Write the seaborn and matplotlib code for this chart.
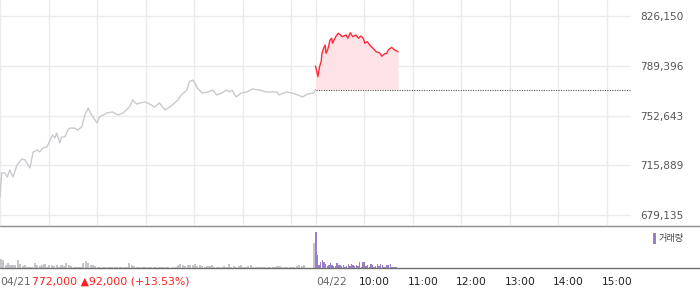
import matplotlib
matplotlib.use("Agg")
import matplotlib.pyplot as plt
import matplotlib.transforms as mtransforms
from matplotlib.lines import Line2D
from matplotlib.patches import Rectangle
from matplotlib.ticker import FuncFormatter
import numpy as np
import pandas as pd
import seaborn as sns

# ---------------- data ----------------
# day 1 (04/21) intraday price, minutes after 09:00
day1_min = [0, 2, 6, 9, 12, 16, 21, 27, 31, 37, 41, 46, 49, 53, 58, 62, 65, 68, 70, 74,
            76, 80, 84, 86, 92, 96, 101, 105, 109, 111, 115, 120, 123, 132, 139, 146, 152, 160, 164, 169,
            173, 179, 185, 191, 197, 204, 210, 213, 220, 224, 231, 234, 238, 241, 244, 250, 257, 263, 268, 274,
            280, 284, 287, 292, 298, 305, 312, 321, 329, 342, 345, 354, 361, 368, 374, 380, 388, 390]
day1_price = [692500, 710300, 710300, 707300, 712500, 707300, 716200, 720600, 719900, 714000,
              725800, 727300, 725800, 728800, 729500, 734700, 738400, 736200, 739900, 732500,
              736900, 736900, 742100, 743500, 743500, 742100, 744300, 753200, 758300, 755400,
              751700, 747200, 751700, 754600, 755400, 753200, 754600, 759100, 764300, 761300,
              762000, 762800, 761300, 759100, 762000, 756900, 759100, 760600, 764300, 768000,
              771600, 777600, 779000, 776800, 773100, 769400, 770200, 771600, 768000, 769400,
              771600, 770200, 771600, 766500, 769400, 770200, 772400, 771600, 770200, 770200,
              768000, 770200, 769400, 768000, 766500, 768700, 769400, 772000]

# day 2 (04/22) intraday price, minutes after 09:00
day2_min = [0, 3, 5, 7, 8, 10, 12, 13, 15, 18, 20, 21, 23, 25, 28, 31, 33, 38, 40, 43,
            46, 50, 53, 56, 59, 61, 64, 67, 71, 75, 79, 82, 85, 88, 90, 94, 98, 102]
day2_price = [789400, 781500, 788900, 792600, 798800, 802500, 804900, 798800, 801200, 808600,
              809900, 806200, 808600, 811100, 813600, 812300, 811100, 812300, 809900, 814000,
              811100, 812300, 809900, 811600, 809900, 806200, 807400, 804900, 802500, 800000,
              799200, 796600, 798300, 798800, 801200, 803200, 801200, 800000]

base_price = 772000  # previous close reference (dotted line)

# volume (thousand shares) - day 1 in 3-minute buckets, day 2 in 2-minute buckets
day1_vol = [9.3, 7.7, 2.7, 5.3, 2.7, 3.3, 2.7, 8, 4, 2,
            3.3, 1, 1, 1.5, 5, 2.7, 2, 3.3, 3.7, 1,
            3.3, 3.3, 2, 2.7, 1, 2.7, 2, 4.7, 2.7, 2,
            1, 1, 1, 1.3, 5.3, 6.7, 5.3, 2.7, 2.7, 2,
            1.3, 1.3, 1.3, 1, 1.3, 1, 1.3, 1, 1.3, 1,
            1.3, 1, 1.3, 4.7, 2.7, 2, 1.3, 1, 1.3, 1,
            1.3, 1, 1.3, 1, 1.3, 1, 1, 1, 1, 1,
            0.5, 1, 1, 2.7, 4.3, 2.7, 2, 2.7, 3.3, 2.7,
            3.7, 2, 2.7, 2, 1.3, 2, 2, 2.7, 1, 1.3,
            0.7, 1.3, 2, 1.3, 4.3, 1, 2, 1.3, 2, 2.7,
            1.3, 1.3, 2, 2.7, 1, 0.7, 1.3, 1, 1, 1,
            1, 1, 1.3, 1.3, 2, 2, 1.3, 1.3, 1.3, 1.3,
            1.3, 1.3, 2, 2.7, 2, 2.7, 0.5, 0, 0, 25]
day2_vol = [36, 13.3, 2.7, 6, 7.7, 6, 4.3, 2, 3, 5.3,
            3.3, 2, 2.5, 5.3, 2.7, 3.3, 2, 2.7, 1.3, 2,
            4.3, 2, 4.3, 2.7, 2, 2.7, 2, 6, 1.3, 6,
            6, 2, 3.3, 1.3, 4, 2.7, 1.3, 2, 4.3, 2,
            4, 2.7, 1.3, 1.3, 2.7, 2.7, 4.3, 1.3, 1.3, 1, 0.7]

price_ticks = [679135, 715889, 752643, 789396, 826150]
time_labels = ["10:00", "11:00", "12:00", "13:00", "14:00", "15:00"]
date_labels = ["04/21", "04/22"]
change_label = "772,000 \u25b292,000 (+13.53%)"
legend_label = "거래량"

# ---------------- derived frames ----------------
SESSION = 390  # minutes per session 09:00-15:30
d1 = pd.DataFrame({"t": day1_min, "price": day1_price})
d2 = pd.DataFrame({"t": [SESSION + m for m in day2_min], "price": day2_price})
v1 = pd.DataFrame({"t": [3 * i + 1.0 for i in range(len(day1_vol))], "vol": day1_vol})
v2 = pd.DataFrame({"t": [SESSION + 2 * i + 0.5 for i in range(len(day2_vol))], "vol": day2_vol})

# ---------------- style ----------------
sns.set_style("white")
plt.rcParams["font.family"] = ["DejaVu Sans"]

W, H = 700, 289
fig = plt.figure(figsize=(W / 100, H / 100), dpi=100)


def fx(px):
    return px / W


def fy(py):
    return 1 - py / H


PLOT_R = 631
TOP_B = 225
VOL_B = 268

ax = fig.add_axes([0, fy(TOP_B), fx(PLOT_R), TOP_B / H])
axv = fig.add_axes([0, fy(VOL_B), fx(PLOT_R), (VOL_B - TOP_B) / H])

XMAX = 2 * SESSION
hour_grid = [h * 60 for h in range(0, 7)] + [SESSION + h * 60 for h in range(0, 7)]

# ---------------- price panel ----------------
ax.fill_between(d2["t"], d2["price"], base_price, color="#fde3e6", lw=0, zorder=1)
sns.lineplot(data=d1, x="t", y="price", ax=ax, color="#c9cacf", lw=1.0, zorder=3)
sns.lineplot(data=d2, x="t", y="price", ax=ax, color="#ff2a38", lw=1.0, zorder=4)
ax.hlines(base_price, SESSION, XMAX, colors="#555555", linestyles=(0, (1, 1.2)), lw=0.8, zorder=2)

ax.set_xlim(0, XMAX)
ax.set_ylim(671816, 838204)
ax.set_xticks(hour_grid)
ax.set_yticks(price_ticks)
ax.yaxis.tick_right()
ax.yaxis.set_major_formatter(FuncFormatter(lambda v, p: f"{v:,.0f}"))
ax.tick_params(axis="y", length=0, pad=6.5, labelsize=7.6, labelcolor="#555555")
ax.tick_params(axis="x", length=0, labelbottom=False)
ax.grid(True, color="#ebebeb", lw=1)
ax.set_axisbelow(True)
ax.set_xlabel("")
ax.set_ylabel("")
for s in ax.spines.values():
    s.set_visible(False)

# ---------------- volume panel ----------------
sns.barplot(data=v1, x="t", y="vol", ax=axv, native_scale=True, color="#c4c5c9",
            width=0.85, linewidth=0, saturation=1)
sns.barplot(data=v2, x="t", y="vol", ax=axv, native_scale=True, color="#9a7fc8",
            width=0.85, linewidth=0, saturation=1)
axv.set_xlim(0, XMAX)
axv.set_ylim(0, 43)
axv.set_yticks([])
axv.set_xticks([0] + [SESSION + h * 60 for h in range(0, 7)])
axv.tick_params(axis="x", length=3, width=1, color="#333333", direction="out", labelbottom=False)
axv.set_xlabel("")
axv.set_ylabel("")
axv.grid(False)
for s in axv.spines.values():
    s.set_visible(False)

# full-width separator / baseline lines
fig.add_artist(Line2D([0, 1], [fy(225.5)] * 2, transform=fig.transFigure, color="#8c8c8c", lw=1))
fig.add_artist(Line2D([0, 1], [fy(268)] * 2, transform=fig.transFigure, color="#6e6e6e", lw=1))

# ---------------- bottom labels ----------------
trans = mtransforms.blended_transform_factory(axv.transData, fig.transFigure)
ly = fy(282)
fig.text(0, ly, date_labels[0], transform=trans, ha="left", va="center", fontsize=7.7, color="#666666")
fig.text(40, ly, change_label, transform=trans, ha="left", va="center", fontsize=7.8, color="#ff1f1f")
fig.text(SESSION + 0.5, ly, date_labels[1], transform=trans, ha="left", va="center", fontsize=7.7, color="#666666")
for i, lab in enumerate(time_labels):
    m = SESSION + (i + 1) * 60
    fig.text(m - 6, ly, lab, transform=trans, ha="left", va="center", fontsize=7.7, color="#222222")

# legend for volume
fig.patches.append(Rectangle((fx(653), fy(243.5)), 3 / W, 11 / H, transform=fig.transFigure,
                             color="#9a7fc8", lw=0))
fig.text(fx(659), fy(238), legend_label, ha="left", va="center", fontsize=6.6, color="#444444",
         family=["Noto Sans CJK KR", "DejaVu Sans"])

fig.savefig("out.png", dpi=100)
